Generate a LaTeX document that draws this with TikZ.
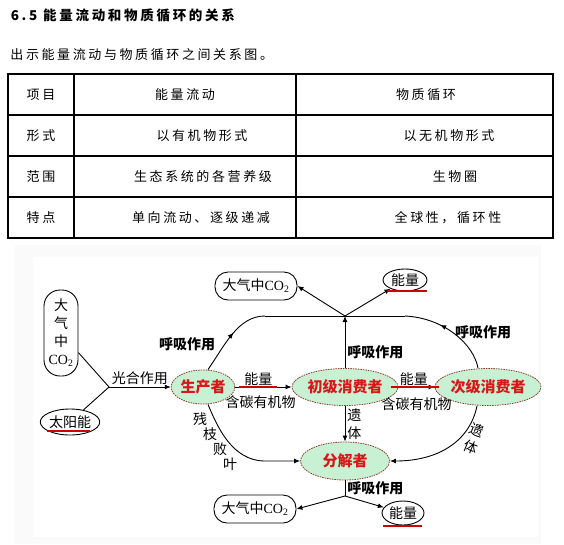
\documentclass[tikz,border=0pt]{standalone}
\usepackage{fontspec}
\setmainfont{Noto Sans CJK SC}
\newfontfamily\spaced[LetterSpace=20]{Noto Sans CJK SC}
\newfontfamily\latinserif{Liberation Serif}
\usetikzlibrary{arrows.meta,positioning,shapes.geometric,decorations.markings}
\definecolor{mintgreen}{HTML}{C8F0D2}
\definecolor{signalred}{HTML}{D81818}
\definecolor{rimred}{HTML}{8A3A2A}
\newcommand{\cotwo}{{\latinserif CO\textsubscript{2}}}

\begin{document}
\begin{tikzpicture}[x=1pt,y=-1pt,line width=0.9pt,
    arr/.style={-{Latex[length=6pt,width=5pt]}},
    midarrow/.style={postaction={decorate},decoration={markings,mark=at position #1 with {\arrow{Latex[length=6pt,width=5pt]}}}},
    organism/.style={ellipse,draw=rimred,dash pattern=on 1.5pt off 1pt,line width=0.8pt,fill=mintgreen,text=signalred,
      font=\fontsize{15}{15}\bfseries,inner sep=0pt,minimum width=89pt,minimum height=37pt},
    pool/.style={rectangle,rounded corners=13pt,draw,inner sep=0pt,minimum width=82pt,minimum height=28pt,font=\fontsize{14}{18}\selectfont},
    heat/.style={ellipse,draw,inner sep=0pt,font=\fontsize{14}{16}\selectfont},
    lbl/.style={font=\fontsize{14}{18}\selectfont,inner sep=1pt},
    resp/.style={font=\fontsize{14}{16}\bfseries,inner sep=1pt},
    redbar/.style={draw=red!80!black,line width=2.8pt},
    cell/.style={font=\spaced\fontsize{13}{15}\selectfont,inner sep=0pt}]
\useasboundingbox (0,0) rectangle (564,544);
\node[anchor=west,font=\spaced\fontsize{13.5}{16}\bfseries] (title) at (7,15) {6.5 能量流动和物质循环的关系};
\node[anchor=west,cell] (intro) at (10,55) {出示能量流动与物质循环之间关系图。};
\draw[line width=1.1pt] (8,74) rectangle (553,238);
\foreach \y in {115,156,197} \draw[line width=1.1pt] (8,\y) -- (553,\y);
\foreach \x in {74,296} \draw[line width=1.1pt] (\x,74) -- (\x,238);
\foreach \a/\b/\bx/\c/\cx [count=\i] in {项目/能量流动/185/物质循环/426,形式/以有机物形式/202/以无机物形式/449,
    范围/生态系统的各营养级/203/生物圈/455,特点/单向流动、逐级递减/201/全球性，循环性/448}{
  \node[cell] (key\i) at (41,{54+41*\i}) {\a};
  \node[cell] (flow\i) at (\bx,{54+41*\i}) {\b};
  \node[cell] (cycle\i) at (\cx,{54+41*\i}) {\c};
}
\fill[gray!4] (15,245) rectangle (541,544);
\fill[white] (33,257) rectangle (538,537);

\node[organism,minimum width=57pt,minimum height=34pt] (prod) at (203,387) {生产者};
\node[organism] (cons1) at (345,387) {初级消费者};
\node[organism] (cons2) at (488,387) {次级消费者};
\node[organism,minimum height=38pt] (decomp) at (345,461) {分解者};
\node[pool] (airtop) at (256,286) {大气中\cotwo};
\node[pool] (airbot) at (255,509) {大气中\cotwo};
\node[pool,rounded corners=16pt,minimum width=34pt,minimum height=86pt,align=center] (airleft) at (61,333) {大\\气\\中\\\cotwo};
\node[heat,minimum width=44pt,minimum height=22pt] (heattop) at (405,280) {能量};
\node[heat,minimum width=42pt,minimum height=24pt] (heatbot) at (403,513) {能量};
\node[heat,minimum width=54pt,minimum height=26pt] (sun) at (70,422) {太阳能};
\coordinate (photoj) at (109,387);
\coordinate (upj) at (345,316);
\coordinate (downj) at (345,496);
\coordinate (lineL) at (265,316);
\coordinate (lineR) at (405,316);

\draw (airleft) -- (photoj) -- (sun);
\draw[arr] (photoj) -- (prod) node[lbl,midway,above=1pt] (photolbl) {光合作用};
\draw[arr] (prod) -- (cons1) node[lbl,pos=0.41,above=0pt] (e1) {能量} node[lbl,pos=0.45,below=7pt] (c1) {含碳有机物};
\draw[arr] (cons1) -- (cons2) node[lbl,pos=0.43,above=0pt] (e2) {能量} node[lbl,pos=0.5,below=9pt] (c2) {含碳有机物};
\draw[redbar] ([xshift=-19pt]e1.south) -- ([xshift=19pt]e1.south);
\draw[redbar] ([xshift=-23pt]e2.south) -- ([xshift=25pt]e2.south);
\draw[arr] (cons1) -- (decomp) node[lbl,midway,right=1pt,align=center] (rem1) {遗\\体};
\draw[arr] ([xshift=-11pt]cons2.south) .. controls (470,440) and (440,461) .. (decomp.east);
\node[lbl,rotate=-22,align=center] (rem2) at (474,439) {遗\\体};
\draw[arr] ([xshift=5pt]prod.south) .. controls (217,426) and (232,461) .. (265,461) -- (decomp.west);
\foreach \ch [count=\k] in {残,枝,败,叶}
  \node[lbl,inner sep=0pt] (litter\k) at ({190+10*\k},{404+15*\k}) {\ch};

\draw[midarrow=0.55] ([xshift=5pt]prod.north) .. controls (225,345) and (238,316) .. (lineL);
\draw (lineL) -- (lineR);
\draw[midarrow=0.62] ([xshift=-10pt]cons2.north) .. controls (474,345) and (445,318) .. (lineR);
\draw[arr] (cons1) -- (upj) node[resp,pos=0.3,right=1pt] (resp2) {呼吸作用};
\draw[arr] (upj) -- (airtop.east);
\draw[arr] (upj) -- (heattop);
\node[resp] (resp1) at (187,344) {呼吸作用};
\node[resp] (resp3) at (483,332) {呼吸作用};
\draw (decomp) -- (downj) node[resp,midway,right=1pt] (resp4) {呼吸作用};
\draw[arr] (downj) -- (airbot.east);
\draw[arr] (downj) -- (heatbot);
\draw[redbar,line width=2pt] ([xshift=-18pt]heattop.south) -- ([xshift=22pt]heattop.south);
\draw[redbar,line width=2pt] ([xshift=-20pt,yshift=-1pt]heatbot.south) -- ([xshift=19pt,yshift=-1pt]heatbot.south);
\draw[redbar,line width=2pt] ([xshift=-23pt,yshift=4pt]sun.south) -- ([xshift=20pt,yshift=4pt]sun.south);
\end{tikzpicture}
\end{document}
